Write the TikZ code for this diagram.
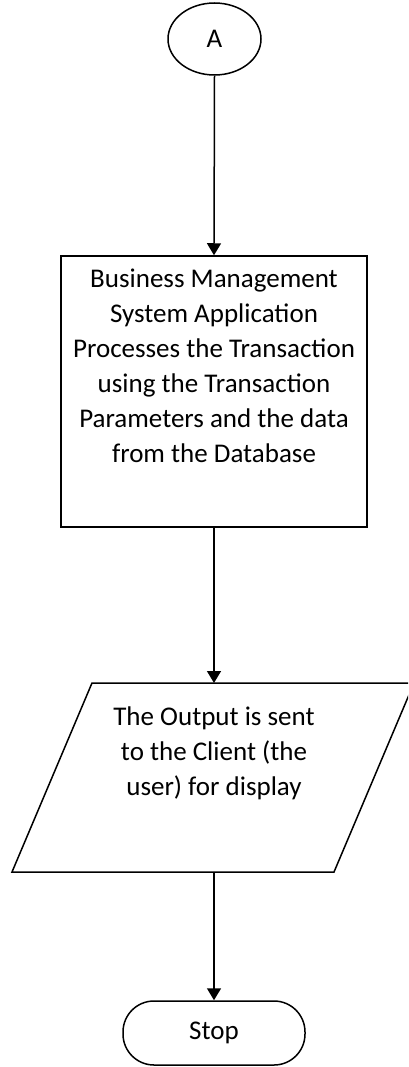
\documentclass[tikz,border=0pt]{standalone}
\usepackage{fontspec}
\setmainfont{Carlito}
\usetikzlibrary{shapes.geometric,arrows.meta}
\begin{document}
\begin{tikzpicture}[x=1pt,y=-1pt,
  line width=1.5pt,
  every node/.style={font=\fontsize{27}{35}\selectfont},
  conn/.style={-{Triangle[length=12pt,width=14pt]}},
  term/.style={draw,ellipse,minimum width=93pt,minimum height=72pt,inner sep=0pt},
  procbox/.style={draw,rectangle,minimum width=306pt,minimum height=271pt,inner sep=0pt},
  stopbox/.style={draw,rectangle,rounded corners=31pt,minimum width=182pt,minimum height=64pt,inner sep=0pt},
  txt/.style={align=center,inner sep=0pt}]
\useasboundingbox (0,0) rectangle (408,1067);
\clip (0,0) rectangle (408,1067);
\node[term] (a) at (214.5,39) {A};
\node[procbox] (p) at (214,391.5) {};
\node[txt,anchor=north] (pt) at (214,268) {Business Management\\System Application\\Processes the Transaction\\using the Transaction\\Parameters and the data\\from the Database};
\coordinate (otl) at (92,683);
\coordinate (otr) at (414,683);
\coordinate (obr) at (334,872);
\coordinate (obl) at (12,872);
\coordinate (otop) at (214,683);
\coordinate (obot) at (214,872);
\draw (otl) -- (otr) -- (obr) -- (obl) -- cycle;
\node[txt,anchor=north] (ot) at (214,706) {The Output is sent\\to the Client (the\\user) for display};
\node[stopbox] (s) at (214,1033) {Stop};
\draw[conn] (a.south) -- (p.north);
\draw[conn] (p.south) -- (otop);
\draw[conn] (obot) -- (s.north);
\end{tikzpicture}
\end{document}
